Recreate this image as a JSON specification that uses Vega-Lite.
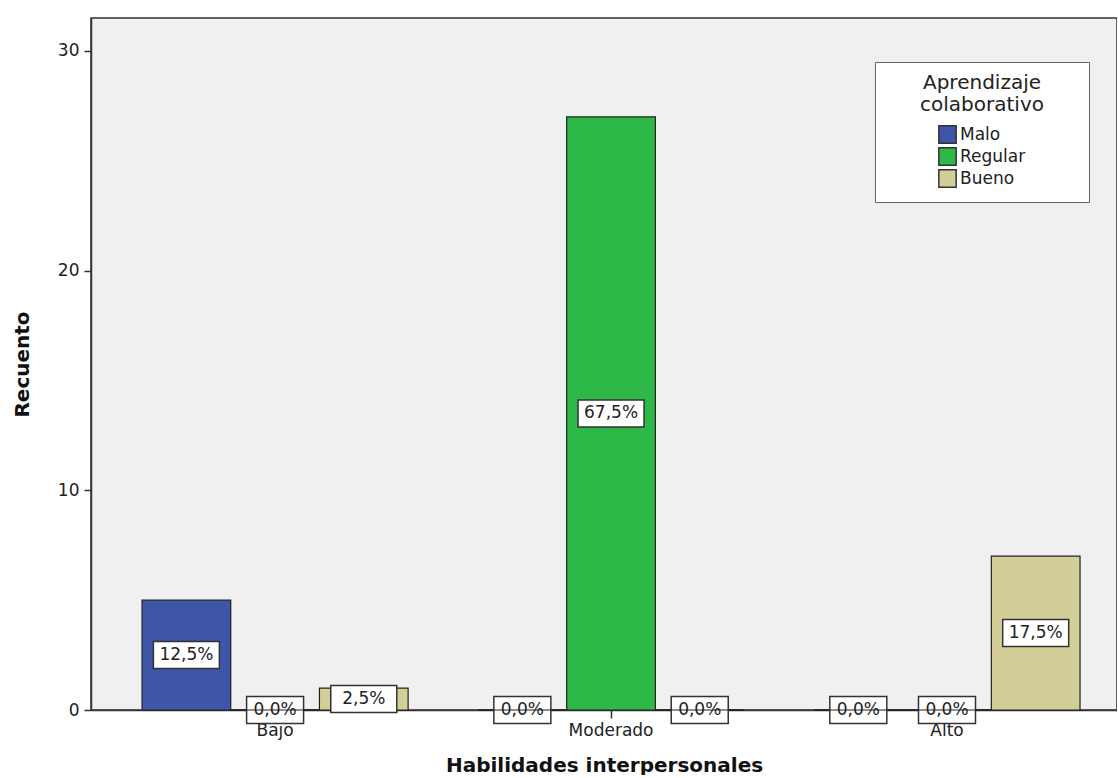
{
  "$schema": "https://vega.github.io/schema/vega-lite/v6.json",
  "width": 1026,
  "height": 692,
  "padding": {"left": 12, "top": 18, "right": 0, "bottom": 0},
  "background": "white",
  "data": {
    "values": [
      {"H": "Bajo", "A": "Malo", "count": 5, "pct": "12,5%"},
      {"H": "Bajo", "A": "Regular", "count": 0, "pct": "0,0%"},
      {"H": "Bajo", "A": "Bueno", "count": 1, "pct": "2,5%"},
      {"H": "Moderado", "A": "Malo", "count": 0, "pct": "0,0%"},
      {"H": "Moderado", "A": "Regular", "count": 27, "pct": "67,5%"},
      {"H": "Moderado", "A": "Bueno", "count": 0, "pct": "0,0%"},
      {"H": "Alto", "A": "Malo", "count": 0, "pct": "0,0%"},
      {"H": "Alto", "A": "Regular", "count": 0, "pct": "0,0%"},
      {"H": "Alto", "A": "Bueno", "count": 7, "pct": "17,5%"}
    ]
  },
  "transform": [{"calculate": "datum.count / 2", "as": "mid"}],
  "encoding": {
    "x": {
      "field": "H",
      "type": "nominal",
      "sort": ["Bajo", "Moderado", "Alto"],
      "scale": {"paddingInner": 0.208, "paddingOuter": 0.131, "align": 0.58},
      "axis": {
        "title": "Habilidades interpersonales",
        "labelAngle": 0,
        "domainColor": "#333",
        "domainWidth": 1.5,
        "tickColor": "#333",
        "tickWidth": 1.5,
        "tickSize": 8,
        "labelPadding": 4,
        "labelFont": "DejaVu Sans",
        "labelFontSize": 17,
        "labelColor": "#222",
        "titleFont": "DejaVu Sans",
        "titleFontSize": 20,
        "titleFontWeight": "bold",
        "titleColor": "#111",
        "titlePadding": 17
      }
    },
    "xOffset": {"field": "A", "type": "nominal", "scale": {"domain": ["Malo", "Regular", "Bueno"]}}
  },
  "layer": [
    {
      "mark": {"type": "bar", "stroke": "#222", "strokeWidth": 1.2},
      "encoding": {
        "y": {
          "field": "count",
          "type": "quantitative",
          "scale": {"domain": [0, 31.5], "nice": false},
          "axis": {
            "title": "Recuento",
            "values": [0, 10, 20, 30],
            "grid": false,
            "domainColor": "#333",
            "domainWidth": 1.5,
            "tickColor": "#333",
            "tickWidth": 1.5,
            "tickSize": 7,
            "labelPadding": 5,
            "labelFont": "DejaVu Sans",
            "labelFontSize": 17,
            "labelColor": "#222",
            "titleFont": "DejaVu Sans",
            "titleFontSize": 20,
            "titleFontWeight": "bold",
            "titleColor": "#111",
            "titlePadding": 25
          }
        },
        "color": {
          "field": "A",
          "type": "nominal",
          "scale": {"domain": ["Malo", "Regular", "Bueno"], "range": ["#3d56a7", "#2eb847", "#d3ce98"]},
          "legend": {
            "title": ["\u200b\u2003\u2002\u2005\u200aAprendizaje\u2003\u2002\u2005\u200a\u200b", "colaborativo"],
            "orient": "none",
            "legendX": 784,
            "legendY": 44,
            "padding": 11,
            "fillColor": "white",
            "strokeColor": "#666",
            "titleFont": "DejaVu Sans",
            "titleFontSize": 20,
            "titleFontWeight": "normal",
            "titleColor": "#222",
            "titleAnchor": "middle",
            "titleAlign": "center",
            "titleLimit": 400,
            "titleLineHeight": 22,
            "titlePadding": 10,
            "labelFont": "DejaVu Sans",
            "labelFontSize": 17,
            "labelColor": "#222",
            "labelOffset": 3,
            "symbolType": "square",
            "symbolSize": 300,
            "symbolStrokeColor": "#333",
            "symbolStrokeWidth": 1.5,
            "rowPadding": -3
          }
        }
      }
    },
    {
      "transform": [{"filter": "datum.count > 0"}],
      "mark": {
        "type": "point",
        "filled": true,
        "fill": "white",
        "stroke": "#333",
        "strokeWidth": 1.5,
        "opacity": 1,
        "size": 4356,
        "shape": "M-1,-0.409L1,-0.409L1,0.409L-1,0.409Z"
      },
      "encoding": {
        "y": {"field": "mid", "type": "quantitative"}
      }
    },
    {
      "transform": [{"filter": "datum.count == 0"}],
      "mark": {
        "type": "point",
        "filled": true,
        "fill": "white",
        "stroke": "#333",
        "strokeWidth": 1.5,
        "opacity": 1,
        "size": 3249,
        "shape": "M-1,-0.474L1,-0.474L1,0.474L-1,0.474Z"
      },
      "encoding": {
        "y": {"field": "mid", "type": "quantitative"}
      }
    },
    {
      "mark": {"type": "text", "font": "DejaVu Sans", "fontSize": 17, "color": "#222", "baseline": "middle", "align": "center"},
      "encoding": {
        "y": {"field": "mid", "type": "quantitative"},
        "text": {"field": "pct", "type": "nominal"}
      }
    },
    {
      "transform": [{"filter": "datum.count == 0"}],
      "mark": {"type": "bar", "stroke": "#222", "strokeWidth": 1.2},
      "encoding": {
        "y": {"field": "count", "type": "quantitative"}
      }
    }
  ],
  "config": {
    "view": {"fill": "#f0f0f0", "stroke": "#333", "strokeWidth": 1.5}
  }
}
